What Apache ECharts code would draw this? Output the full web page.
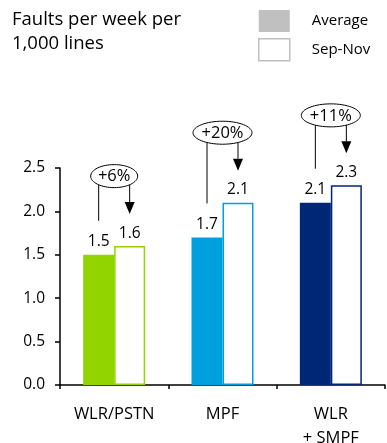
<!DOCTYPE html>
<html>
<head>
<meta charset="utf-8">
<script src="https://cdn.jsdelivr.net/npm/echarts@6/dist/echarts.min.js"></script>
<style>
  html, body { margin: 0; padding: 0; background: #fff; }
  #chart { width: 387px; height: 443px; }
</style>
</head>
<body>
<div id="chart"></div>
<script>
// Fault rates per product line
const categories = ['WLR/PSTN', 'MPF', 'WLR\n+ SMPF'];
const averageValues = [1.5, 1.7, 2.1];
const sepNovValues = [1.6, 2.1, 2.3];
const changeLabels = ['+6%', '+20%', '+11%'];
const yTicks = [0, 0.5, 1.0, 1.5, 2.0, 2.5];

const productColors = ['#92D400', '#00A0DF', '#002776'];
const FONT = '"Open Sans", sans-serif';
const BAR_W = 31;

const chart = echarts.init(document.getElementById('chart'), null, { renderer: 'canvas' });

// Ellipse outline as a polygon
function ellipsePoints(cx, cy, rx, ry) {
  const pts = [];
  for (let k = 0; k < 64; k++) {
    const a = (k / 64) * Math.PI * 2;
    pts.push([cx + rx * Math.cos(a), cy + ry * Math.sin(a)]);
  }
  return pts;
}

// Change callouts: ellipse with the % change, a stem over the average bar
// and an arrow pointing at the Sep-Nov bar
function renderCallout(params, api) {
  const i = api.value(0);
  const avg = api.value(1);
  const sep = api.value(2);
  const label = changeLabels[i];
  const cx = api.coord([i, 0])[0];
  const yAvg = api.coord([i, avg])[1];
  const ySep = api.coord([i, sep])[1];
  const xa = cx - BAR_W / 2;
  const xs = cx + BAR_W / 2;
  const ey = Math.min(yAvg, ySep) - 70;
  const rx = 6 * label.length + 5.5;
  const ry = 11.5;
  const edge = (x) => ey + ry * Math.sqrt(Math.max(0, 1 - Math.pow((x - cx) / rx, 2)));
  const tipY = ySep - 32;
  const headH = 12;
  return {
    type: 'group',
    children: [
      { type: 'line', shape: { x1: xa, y1: edge(xa), x2: xa, y2: yAvg - 34 },
        style: { stroke: '#000', lineWidth: 1 } },
      { type: 'line', shape: { x1: xs, y1: edge(xs), x2: xs, y2: tipY - headH },
        style: { stroke: '#000', lineWidth: 1 } },
      { type: 'polygon', shape: { points: [[xs - 5, tipY - headH], [xs + 5, tipY - headH], [xs, tipY]] },
        style: { fill: '#000' } },
      { type: 'polygon', shape: { points: ellipsePoints(cx, ey, rx, ry) },
        style: { fill: '#fff', stroke: '#000', lineWidth: 1 } },
      { type: 'text', x: cx, y: ey + 0.5,
        style: { text: label, fill: '#000', font: '16.5px ' + FONT, align: 'center', verticalAlign: 'middle' } }
    ]
  };
}

const option = {
  animation: false,
  backgroundColor: '#fff',
  title: {
    text: 'Faults per week per\n1,000 lines',
    left: 12, top: 8, padding: 0,
    textStyle: { fontFamily: FONT, fontSize: 18.5, fontWeight: 'normal', color: '#000', lineHeight: 24 }
  },
  legend: {
    orient: 'vertical',
    left: 258, top: 10, padding: 0,
    itemWidth: 31, itemHeight: 22, itemGap: 6,
    textStyle: { fontFamily: FONT, fontSize: 15, color: '#000', padding: [0, 0, 0, 17] },
    data: [
      { name: 'Average', icon: 'rect', itemStyle: { color: '#C0C0C0', borderWidth: 0 } },
      { name: 'Sep-Nov', icon: 'rect', itemStyle: { color: '#fff', borderColor: '#BFBFBF', borderWidth: 1.5 } }
    ]
  },
  grid: { left: 60, right: 2, top: 168, bottom: 58, containLabel: false, outerBoundsMode: 'none' },
  xAxis: {
    type: 'category',
    data: categories,
    axisLine: { lineStyle: { color: '#000', width: 1.5 } },
    axisTick: { show: true, length: 4, lineStyle: { color: '#000', width: 1.5 } },
    axisLabel: { fontFamily: FONT, fontSize: 16.5, color: '#000', margin: 17, lineHeight: 24 }
  },
  yAxis: {
    type: 'value',
    min: 0, max: 2.5, interval: 0.5,
    splitLine: { show: false },
    axisLine: { show: true, lineStyle: { color: '#000', width: 1.5 } },
    axisTick: { show: true, length: 5, lineStyle: { color: '#000', width: 1.5 } },
    axisLabel: {
      fontFamily: FONT, fontSize: 15.5, color: '#000', margin: 15,
      formatter: (v) => (yTicks.includes(v) ? v.toFixed(1) : '')
    }
  },
  series: [
    {
      name: 'Average', type: 'bar', barWidth: BAR_W, barGap: '0%',
      itemStyle: { color: '#C0C0C0' },
      data: averageValues.map((v, i) => ({ value: v, itemStyle: { color: productColors[i] } })),
      label: { show: true, position: 'top', distance: 5, fontFamily: FONT, fontSize: 15.5, color: '#000',
        formatter: (p) => p.value.toFixed(1) }
    },
    {
      name: 'Sep-Nov', type: 'bar', barWidth: BAR_W, barGap: '0%',
      itemStyle: { color: '#fff', borderColor: '#BFBFBF', borderWidth: 1.5 },
      data: sepNovValues.map((v, i) => ({ value: v, itemStyle: { color: '#fff', borderColor: productColors[i], borderWidth: 1.5 } })),
      label: { show: true, position: 'top', distance: 5, fontFamily: FONT, fontSize: 15.5, color: '#000',
        formatter: (p) => p.value.toFixed(1) }
    },
    {
      name: 'change', type: 'custom', clip: false, silent: true,
      renderItem: renderCallout,
      data: categories.map((c, i) => [i, averageValues[i], sepNovValues[i]]),
      z: 10
    }
  ]
};

chart.setOption(option);
</script>
</body>
</html>
